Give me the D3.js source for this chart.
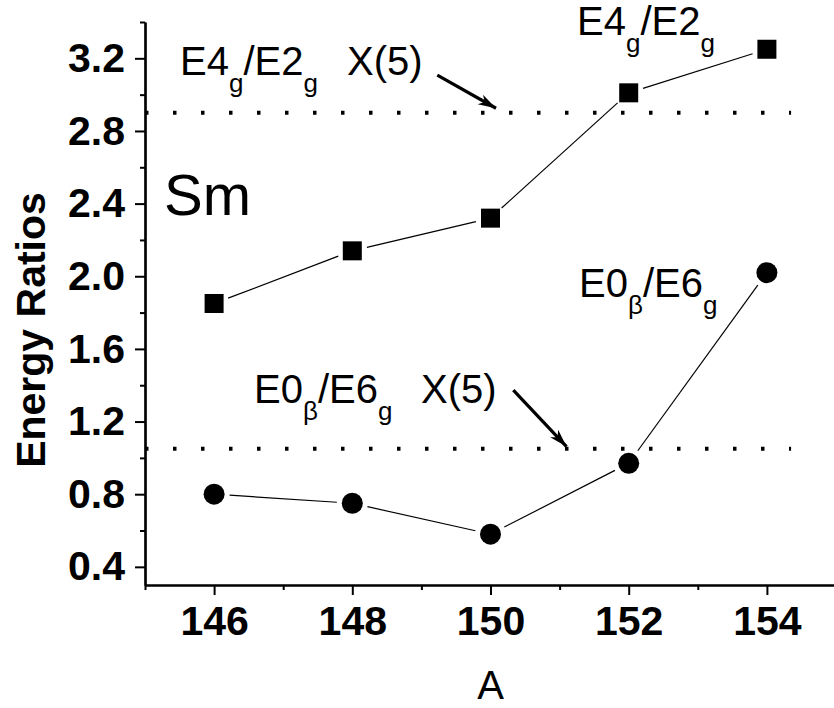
<!DOCTYPE html>
<html>
<head>
<meta charset="utf-8">
<script src="https://cdn.jsdelivr.net/npm/d3@7/dist/d3.min.js"></script>
<style>
  html, body { margin: 0; padding: 0; background: #fff; }
  svg { display: block; font-family: "Liberation Sans", Arial, sans-serif; }
</style>
</head>
<body>
<svg id="chart" width="834" height="708"></svg>
<script>
// ---- data ----
const massNumbers = [146, 148, 150, 152, 154];
const ratioE4E2 = [1.85, 2.14, 2.32, 3.01, 3.25];
const ratioE0E6 = [0.80, 0.75, 0.58, 0.97, 2.02];
const x5E4E2 = 2.90;
const x5E0E6 = 1.05;
const x5LineSpan = [145, 154.35];
const yTickValues = [0.4, 0.8, 1.2, 1.6, 2.0, 2.4, 2.8, 3.2];
const yMinorValues = [0.6, 1.0, 1.4, 1.8, 2.2, 2.6, 3.0, 3.4];
const xTickValues = [146, 148, 150, 152, 154];
const xMinorValues = [145, 147, 149, 151, 153, 155];
// arrows: [x0, y0, x1, y1] in data units
const arrowUpper = [149.23, 3.107, 150.08, 2.925];
const arrowLower = [150.33, 1.373, 151.1, 1.062];

const svg = d3.select("#chart");
const x = d3.scaleLinear().domain([145, 155]).range([145, 836]);
const y = d3.scaleLinear().domain([0.3, 3.4]).range([585, 22]);

// ---- dotted X(5) reference lines ----
[x5E4E2, x5E0E6].forEach(v => {
  svg.append("line")
    .attr("x1", x(x5LineSpan[0])).attr("x2", x(x5LineSpan[1]))
    .attr("y1", y(v)).attr("y2", y(v))
    .attr("stroke", "#000").attr("stroke-width", 4)
    .attr("stroke-dasharray", "3.5,24.5");
});

// ---- axes ----
const yAxis = d3.axisLeft(y).tickValues(yTickValues).tickSize(10).tickSizeOuter(0)
  .tickPadding(10).tickFormat(d3.format(".1f"));
const yMinor = d3.axisLeft(y).tickValues(yMinorValues).tickSize(5).tickSizeOuter(0).tickFormat("");
const xAxis = d3.axisBottom(x).tickValues(xTickValues).tickSize(10).tickSizeOuter(0)
  .tickPadding(11).tickFormat(d3.format("d"));
const xMinor = d3.axisBottom(x).tickValues(xMinorValues).tickSize(5).tickSizeOuter(0).tickFormat("");

function styleAxis(g) {
  g.select(".domain").attr("stroke-width", 2.2).attr("stroke", "#000");
  g.selectAll(".tick line").attr("stroke-width", 2).attr("stroke", "#000");
  g.selectAll(".tick text").attr("font-size", 41).attr("font-weight", "bold")
    .attr("fill", "#000").attr("font-family", "Liberation Sans, Arial, sans-serif");
}
svg.append("g").attr("transform", `translate(${x(145)},0)`).call(yMinor).call(styleAxis);
svg.append("g").attr("transform", `translate(${x(145)},0)`).call(yAxis).call(styleAxis);
svg.append("g").attr("transform", `translate(0,${y(0.3)})`).call(xMinor).call(styleAxis);
svg.append("g").attr("transform", `translate(0,${y(0.3)})`).call(xAxis).call(styleAxis);

// axis titles
svg.append("text")
  .attr("transform", `translate(45,330) rotate(-90)`)
  .attr("text-anchor", "middle")
  .attr("font-size", 41).attr("font-weight", "bold")
  .text("Energy Ratios");
svg.append("text")
  .attr("x", x(150)).attr("y", 699)
  .attr("text-anchor", "middle")
  .attr("font-size", 40)
  .text("A");

// ---- series connecting lines with gaps at markers ----
function drawSeries(vals, gap) {
  const pts = massNumbers.map((m, i) => [x(m), y(vals[i])]);
  for (let i = 0; i < pts.length - 1; i++) {
    const [ax, ay] = pts[i], [bx, by] = pts[i + 1];
    const dx = bx - ax, dy = by - ay, L = Math.hypot(dx, dy);
    const ux = dx / L, uy = dy / L;
    svg.append("line")
      .attr("x1", ax + ux * gap).attr("y1", ay + uy * gap)
      .attr("x2", bx - ux * gap).attr("y2", by - uy * gap)
      .attr("stroke", "#000").attr("stroke-width", 1.2);
  }
}
drawSeries(ratioE4E2, 15);
drawSeries(ratioE0E6, 15.5);

const sq = 19;
svg.append("g").selectAll("rect").data(massNumbers).join("rect")
  .attr("x", (d) => x(d) - sq / 2)
  .attr("y", (d, i) => y(ratioE4E2[i]) - sq / 2)
  .attr("width", sq).attr("height", sq).attr("fill", "#000");
svg.append("g").selectAll("circle").data(massNumbers).join("circle")
  .attr("cx", (d) => x(d))
  .attr("cy", (d, i) => y(ratioE0E6[i]))
  .attr("r", 10.5).attr("fill", "#000");

// ---- annotations ----
function ratioLabel(px, py, main1, sub1, main2, sub2) {
  const t = svg.append("text").attr("x", px).attr("y", py).attr("font-size", 40);
  t.append("tspan").text(main1);
  t.append("tspan").attr("font-size", 26).attr("dy", 17).text(sub1);
  t.append("tspan").attr("dy", -17).text(main2);
  t.append("tspan").attr("font-size", 26).attr("dy", 17).text(sub2);
  return t;
}
ratioLabel(180, 75, "E4", "g", "/E2", "g");
svg.append("text").attr("x", 347).attr("y", 75).attr("font-size", 40).text("X(5)");
ratioLabel(577, 35, "E4", "g", "/E2", "g");
ratioLabel(579, 297, "E0", "\u03B2", "/E6", "g");
ratioLabel(254, 403, "E0", "\u03B2", "/E6", "g");
svg.append("text").attr("x", 421).attr("y", 403).attr("font-size", 40).text("X(5)");

svg.append("text").attr("x", 164).attr("y", 215).attr("font-size", 58).text("Sm");

// arrows
const defs = svg.append("defs");
defs.append("marker").attr("id", "ah")
  .attr("viewBox", "0 0 18 12").attr("refX", 18).attr("refY", 6)
  .attr("markerWidth", 18).attr("markerHeight", 12)
  .attr("markerUnits", "userSpaceOnUse").attr("orient", "auto")
  .append("path").attr("d", "M0,0.5 L18,6 L0,11.5 L5,6 Z").attr("fill", "#000");
[arrowUpper, arrowLower].forEach(a => {
  svg.append("line")
    .attr("x1", x(a[0])).attr("y1", y(a[1]))
    .attr("x2", x(a[2])).attr("y2", y(a[3]))
    .attr("stroke", "#000").attr("stroke-width", 3.2)
    .attr("marker-end", "url(#ah)");
});
</script>
</body>
</html>
